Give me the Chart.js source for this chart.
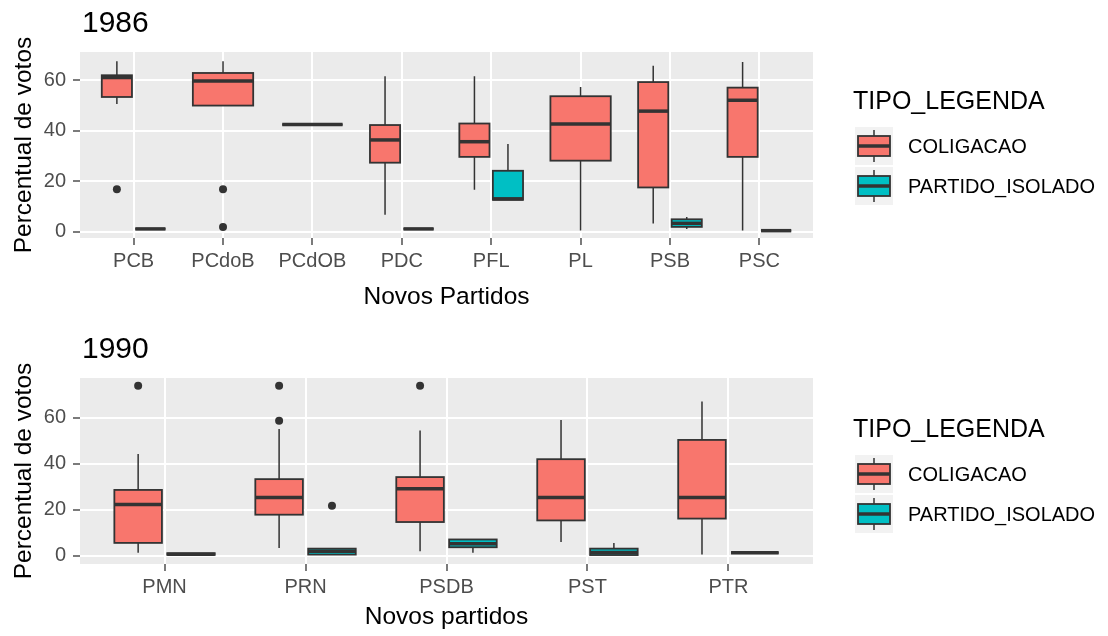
<!DOCTYPE html>
<html>
<head>
<meta charset="utf-8">
<script src="https://cdn.jsdelivr.net/npm/chart.js@4.4.0/dist/chart.umd.min.js"></script>
<style>
  body { margin: 0; background: #ffffff; }
  canvas { display: block; }
</style>
</head>
<body>
<canvas id="chart1986" width="1108" height="318"></canvas>
<canvas id="chart1990" width="1108" height="318"></canvas>
<script>
const FONT = "'Liberation Sans', Arial, sans-serif";
const COR_COLIGACAO = '#F8766D';
const COR_ISOLADO = '#00BFC4';
const legendaItens = ['COLIGACAO', 'PARTIDO_ISOLADO'];

// 1986 -- each box is [min, q1, mediana, q3, max], null = no rows of that type
const partidos1986 = ['PCB', 'PCdoB', 'PCdOB', 'PDC', 'PFL', 'PL', 'PSB', 'PSC'];
const coligacao1986 = [
  [50.6, 53.4, 61.1, 62.0, 67.5],
  [50.0, 50.0, 59.7, 62.9, 67.5],
  [42.5, 42.5, 42.5, 42.5, 42.5],
  [6.8, 27.4, 36.4, 42.3, 61.6],
  [16.7, 29.7, 35.7, 42.9, 61.6],
  [0.6, 28.2, 42.7, 53.7, 57.4],
  [3.3, 17.6, 47.8, 59.3, 65.8],
  [0.6, 29.7, 52.1, 57.1, 67.2]
];
const isolado1986 = [
  [1.2, 1.2, 1.2, 1.2, 1.2],
  null,
  null,
  [1.2, 1.2, 1.2, 1.2, 1.2],
  [12.7, 12.7, 13.1, 24.2, 34.8],
  null,
  [1.2, 2.0, 3.4, 5.0, 5.9],
  [0.5, 0.5, 0.5, 0.5, 0.5]
];
const outliersColig1986 = [[16.9], [16.9, 2.0], [], [], [], [], [], []];
const outliersIsol1986 = [[], [], [], [], [], [], [], []];

// 1990
const partidos1990 = ['PMN', 'PRN', 'PSDB', 'PST', 'PTR'];
const coligacao1990 = [
  [1.2, 5.5, 22.2, 28.6, 44.3],
  [3.3, 17.8, 25.3, 33.3, 55.2],
  [1.9, 14.6, 29.1, 34.2, 54.5],
  [5.9, 15.3, 25.3, 42.0, 59.1],
  [0.4, 16.1, 25.3, 50.4, 67.1]
];
const isolado1990 = [
  [0.3, 0.3, 0.6, 1.0, 1.0],
  [0.4, 0.4, 1.9, 3.0, 3.0],
  [1.2, 3.6, 5.1, 7.0, 7.0],
  [0.2, 0.2, 1.3, 3.0, 5.5],
  [1.2, 1.2, 1.2, 1.2, 1.2]
];
const outliersColig1990 = [[74], [74, 58.8], [74], [], []];
const outliersIsol1990 = [[], [21.7], [], [], []];

// dodge like ggplot: two boxes share the slot, a lone box gets all of it
function posicoes(colig, isol, i) {
  if (colig[i] && isol[i]) return { c: i - 0.1875, s: i + 0.1875, w: 0.3375 };
  return { c: i, s: i, w: 0.675 };
}

function pontos(colig, isol, outs, serie) {
  const pts = [];
  outs.forEach((vals, i) => {
    const p = posicoes(colig, isol, i);
    vals.forEach(v => pts.push({ x: serie === 'c' ? p.c : p.s, y: v }));
  });
  return pts;
}

function desenhaCaixa(ctx, left, right, yMax, yQ3, yMed, yQ1, yMin, cor) {
  const mid = (left + right) / 2;
  ctx.save();
  ctx.strokeStyle = '#333333';
  ctx.lineWidth = 1.5;
  ctx.beginPath();
  ctx.moveTo(mid, yMax); ctx.lineTo(mid, yQ3);
  ctx.moveTo(mid, yQ1); ctx.lineTo(mid, yMin);
  ctx.stroke();
  ctx.fillStyle = cor;
  ctx.fillRect(left, yQ3, right - left, yQ1 - yQ3);
  ctx.lineWidth = 1.8;
  ctx.strokeRect(left, yQ3, right - left, yQ1 - yQ3);
  ctx.lineWidth = 3.5;
  ctx.beginPath();
  ctx.moveTo(left, yMed); ctx.lineTo(right, yMed);
  ctx.stroke();
  ctx.restore();
}

function boxPlugin(ano, labels, colig, isol, legendaY) {
  function caixa(ctx, x, y, cx, w, s, cor) {
    desenhaCaixa(ctx,
      x.getPixelForValue(cx - w / 2), x.getPixelForValue(cx + w / 2),
      y.getPixelForValue(s[4]), y.getPixelForValue(s[3]), y.getPixelForValue(s[2]),
      y.getPixelForValue(s[1]), y.getPixelForValue(s[0]), cor);
  }
  return {
    id: 'boxplot' + ano,
    beforeDraw(chart) {
      const { ctx, chartArea: a } = chart;
      ctx.save();
      ctx.fillStyle = '#EBEBEB';
      ctx.fillRect(a.left, a.top, a.right - a.left, a.bottom - a.top);
      ctx.restore();
    },
    beforeDatasetsDraw(chart) {
      const { ctx, scales: { x, y } } = chart;
      labels.forEach((_, i) => {
        const p = posicoes(colig, isol, i);
        if (colig[i]) caixa(ctx, x, y, p.c, p.w, colig[i], COR_COLIGACAO);
        if (isol[i]) caixa(ctx, x, y, p.s, p.w, isol[i], COR_ISOLADO);
      });
    },
    afterDraw(chart) {
      const { ctx, chartArea: a } = chart;
      ctx.save();
      ctx.fillStyle = '#000000';
      ctx.textBaseline = 'middle';
      ctx.textAlign = 'left';
      ctx.font = '30px ' + FONT;
      ctx.fillText(ano, a.left + 2, a.top - 28);

      // legend
      const lx = a.right + 40;
      ctx.font = '25px ' + FONT;
      ctx.fillText('TIPO_LEGENDA', lx, legendaY);
      [COR_COLIGACAO, COR_ISOLADO].forEach((cor, k) => {
        const kx = a.right + 42;
        const ky = legendaY + 25 + k * 40;
        ctx.fillStyle = '#F2F2F2';
        ctx.fillRect(kx, ky, 38, 38);
        desenhaCaixa(ctx, kx + 3, kx + 35, ky + 3, ky + 9, ky + 19, ky + 29, ky + 35, cor);
        ctx.fillStyle = '#000000';
        ctx.font = '20px ' + FONT;
        ctx.fillText(legendaItens[k], a.right + 95, ky + 20);
      });
      ctx.restore();
    }
  };
}

function eixos(labels, yMin, yMax, xAltura, xTitulo, xTituloPad) {
  return {
    x: {
      type: 'linear',
      min: -0.6,
      max: labels.length - 0.4,
      afterFit: s => { s.height = xAltura; },
      border: { display: false },
      grid: { color: '#FFFFFF', lineWidth: 2, tickColor: '#333333', tickLength: 7, tickWidth: 1.3 },
      ticks: {
        stepSize: 1, includeBounds: false, autoSkip: false, maxRotation: 0, padding: 4,
        color: '#4D4D4D', font: { family: FONT, size: 20 },
        callback: v => labels[Math.round(v)] ?? ''
      },
      title: {
        display: true, text: xTitulo, color: '#000000',
        font: { family: FONT, size: 24.5 }, padding: { top: 0, bottom: xTituloPad }
      }
    },
    y: {
      min: yMin,
      max: yMax,
      afterFit: s => { s.width = 80; },
      border: { display: false },
      grid: {
        color: '#FFFFFF',
        lineWidth: c => (c.tick && c.tick.value % 20 === 0 ? 2 : 1),
        tickColor: c => (c.tick && c.tick.value % 20 === 0 ? '#333333' : 'rgba(0,0,0,0)'),
        tickLength: 7, tickWidth: 1.3
      },
      ticks: {
        stepSize: 10, includeBounds: false, padding: 7,
        color: '#4D4D4D', font: { family: FONT, size: 20 },
        callback: v => (v % 20 === 0 ? v : '')
      },
      title: {
        display: true, text: 'Percentual de votos', color: '#000000',
        font: { family: FONT, size: 24.5 }, padding: { top: 10, bottom: 0 }
      }
    }
  };
}

function fazGrafico(id, ano, labels, colig, isol, outC, outS, yMin, yMax, topo, xAltura, xTitulo, xTituloPad, legendaY) {
  return new Chart(document.getElementById(id), {
    type: 'scatter',
    data: {
      datasets: [
        { label: 'COLIGACAO', data: pontos(colig, isol, outC, 'c'), pointRadius: 4, backgroundColor: '#333333', borderWidth: 0 },
        { label: 'PARTIDO_ISOLADO', data: pontos(colig, isol, outS, 's'), pointRadius: 4, backgroundColor: '#333333', borderWidth: 0 }
      ]
    },
    options: {
      responsive: false,
      animation: false,
      events: [],
      layout: { padding: { top: topo, right: 295, bottom: 0, left: 0 } },
      plugins: { legend: { display: false }, tooltip: { enabled: false }, title: { display: false } },
      scales: eixos(labels, yMin, yMax, xAltura, xTitulo, xTituloPad)
    },
    plugins: [boxPlugin(ano, labels, colig, isol, legendaY)]
  });
}

fazGrafico('chart1986', '1986', partidos1986, coligacao1986, isolado1986, outliersColig1986, outliersIsol1986,
  -2.4, 71.2, 52, 80, 'Novos Partidos', 6, 102);
fazGrafico('chart1990', '1990', partidos1990, coligacao1990, isolado1990, outliersColig1990, outliersIsol1990,
  -3.7, 77.4, 60, 72, 'Novos partidos', 4, 112);
</script>
</body>
</html>
